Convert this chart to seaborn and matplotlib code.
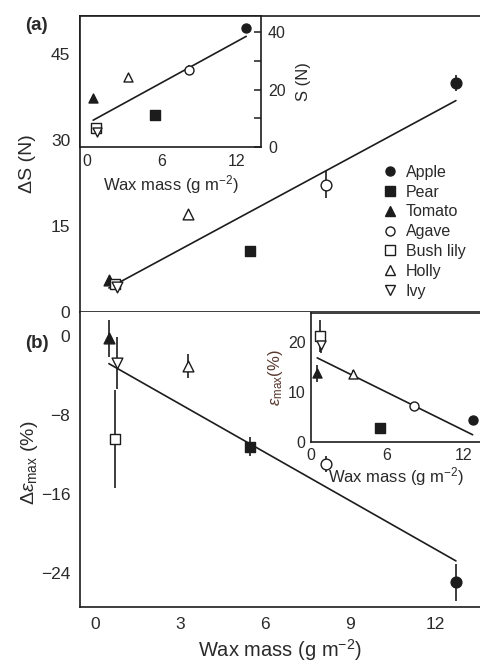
import numpy as np
import pandas as pd
import matplotlib
matplotlib.use("Agg")
import matplotlib.pyplot as plt
from matplotlib.lines import Line2D
import seaborn as sns

sns.set_theme(style="white")
plt.rcParams["font.family"] = ["Liberation Sans", "DejaVu Sans"]
plt.rcParams["mathtext.fontset"] = "custom"
plt.rcParams["mathtext.rm"] = "Liberation Sans"
plt.rcParams["mathtext.it"] = "Liberation Sans:italic"
plt.rcParams["mathtext.bf"] = "Liberation Sans:bold"
plt.rcParams["axes.unicode_minus"] = True

# ---------------- data ----------------
species = ["Apple", "Pear", "Tomato", "Agave", "Bush lily", "Holly", "Ivy"]
wax = [12.74, 5.47, 0.49, 8.15, 0.72, 3.28, 0.78]
delta_S = [39.9, 10.7, 5.5, 22.2, 4.8, 17.0, 4.4]
delta_S_err = [1.4, 0.4, 0.3, 2.4, 0.3, 0.4, 0.3]
S = [41.4, 11.1, 17.0, 26.8, 6.6, 24.3, 5.3]
S_err = [0.8, 0.5, 0.6, 1.8, 1.0, 0.6, 1.0]
delta_eps = [-25.0, -11.2, -0.2, -13.0, -10.4, -3.0, -2.7]
delta_eps_err = [1.9, 1.0, 1.9, 0.8, 5.0, 1.2, 2.6]
eps = [4.4, 2.8, 13.8, 7.2, 21.2, 13.6, 19.4]
eps_err = [0.3, 0.3, 1.7, 0.4, 3.2, 0.8, 1.5]

main_xticks = [0, 3, 6, 9, 12]
ticksA = [0, 15, 30, 45]
ticksB = [-24, -16, -8, 0]

# ---------------- styles ----------------
markers = ["o", "s", "^", "o", "s", "^", "v"]
filled = [True, True, True, False, False, False, False]
INK = "#1c1c1c"
TXT = "#2a2a2a"

df = pd.DataFrame({"species": species, "wax": wax, "dS": delta_S, "dS_err": delta_S_err,
                   "S": S, "S_err": S_err, "de": delta_eps, "de_err": delta_eps_err,
                   "e": eps, "e_err": eps_err})

W, H = 480, 662
fig = plt.figure(figsize=(W / 100, H / 100), dpi=100)


def frac(l, t, r, b):
    return [l / W, 1 - b / H, (r - l) / W, (b - t) / H]


axA = fig.add_axes(frac(80, 16, 480, 312))
axB = fig.add_axes(frac(80, 312, 480, 607))
insA = fig.add_axes(frac(80, 16, 261, 147))
insB = fig.add_axes(frac(311, 313, 480, 442))


def draw(ax, ycol, ecol, size):
    for i, row in df.iterrows():
        ax.errorbar(row["wax"], row[ycol], yerr=row[ecol], fmt="none",
                    ecolor=INK, elinewidth=1.2, capsize=0, zorder=2)
        face = INK if filled[i] else "white"
        sns.scatterplot(x=[row["wax"]], y=[row[ycol]], marker=markers[i], color=face,
                        edgecolor=INK, linewidth=1.0, s=size, ax=ax, zorder=3, legend=False)
    sns.regplot(data=df, x="wax", y=ycol, scatter=False, ci=None, truncate=True,
                color=INK, line_kws=dict(lw=1.2, zorder=2.5), ax=ax)
    ax.set_xlabel("")
    ax.set_ylabel("")


draw(axA, "dS", "dS_err", 60)
draw(axB, "de", "de_err", 60)
draw(insA, "S", "S_err", 42)
draw(insB, "e", "e_err", 42)

for ax in (axA, axB, insA, insB):
    ax.set_facecolor("white")
    for s in ax.spines.values():
        s.set_color(INK)
        s.set_linewidth(1.2)
    ax.grid(False)

# main (a)
axA.set_xlim(-0.53, 13.59)
axA.set_ylim(0, 51.6)
axA.set_xticks(main_xticks)
axA.set_yticks(ticksA)
axA.spines["right"].set_visible(False)
axA.tick_params(axis="both", direction="in", length=6, width=1.1, colors=INK,
                labelcolor=TXT, labelsize=12.5, pad=7)
axA.tick_params(axis="x", labelbottom=False)
axA.set_ylabel("ΔS (N)", fontsize=14, color=TXT)
axA.yaxis.set_label_coords(-0.11, 0.5)

# main (b)
axB.set_xlim(-0.53, 13.59)
axB.set_ylim(-27.5, 2.49)
axB.set_xticks(main_xticks)
axB.set_yticks(ticksB)
axB.spines["right"].set_visible(False)
axB.spines["top"].set_visible(False)
axB.tick_params(axis="both", direction="in", length=6, width=1.1, colors=INK,
                labelcolor=TXT, labelsize=12.5, pad=7)
axB.set_xlabel("Wax mass (g m$^{-2}$)", fontsize=14.5, color=TXT, labelpad=4)
axB.set_ylabel(r"$\Delta\varepsilon_{\rm max}$ (%)", fontsize=14, color=TXT)
axB.yaxis.set_label_coords(-0.1, 0.49)

# inset (a)
insA.set_xlim(-0.56, 13.92)
insA.set_ylim(0, 45.6)
insA.set_xticks([0, 6, 12])
insA.set_xticks([3, 9], minor=True)
insA.set_yticks([0, 20, 40])
insA.set_yticks([10, 30], minor=True)
insA.yaxis.tick_right()
insA.yaxis.set_label_position("right")
insA.tick_params(axis="both", which="both", direction="in", length=5, width=1.1,
                 colors=INK, labelcolor=TXT, labelsize=11.5, pad=5)
insA.set_xlabel("Wax mass (g m$^{-2}$)", fontsize=12, color=TXT, labelpad=3)
insA.set_ylabel("S (N)", fontsize=12, color=TXT, labelpad=7)

# inset (b)
insB.set_xlim(0.12, 13.32)
insB.set_ylim(0, 25.8)
insB.set_xticks([0, 6, 12])
insB.set_xticks([3, 9], minor=True)
insB.set_yticks([0, 10, 20])
insB.set_yticks([5, 15, 25], minor=True)
insB.spines["right"].set_visible(False)
insB.tick_params(axis="both", which="both", direction="in", length=5, width=1.1,
                 colors=INK, labelcolor=TXT, labelsize=11.5, pad=4)
insB.set_xlabel("Wax mass (g m$^{-2}$)", fontsize=12, color=TXT, labelpad=2)
insB.set_ylabel(r"$\varepsilon_{\rm max}$(%)", fontsize=12, color="#5a3a30", labelpad=2)

# legend
handles = [Line2D([], [], marker=markers[i], ls="none", mfc=(INK if filled[i] else "white"),
                  mec=INK, mew=1.0, ms=6.5) for i in range(len(species))]
leg = axA.legend(handles, species, loc="upper left", bbox_to_anchor=(0.73, 0.524),
                 frameon=False, fontsize=11.5, handletextpad=0.4, labelspacing=0.3,
                 borderpad=0, handlelength=1.2, labelcolor=TXT)

fig.text(25 / W, 1 - 25 / H, "(a)", fontsize=13.5, fontweight="bold", color=TXT,
         ha="left", va="center")
fig.text(25 / W, 1 - 343 / H, "(b)", fontsize=13.5, fontweight="bold", color=TXT,
         ha="left", va="center")

fig.savefig("out.png", dpi=100)
